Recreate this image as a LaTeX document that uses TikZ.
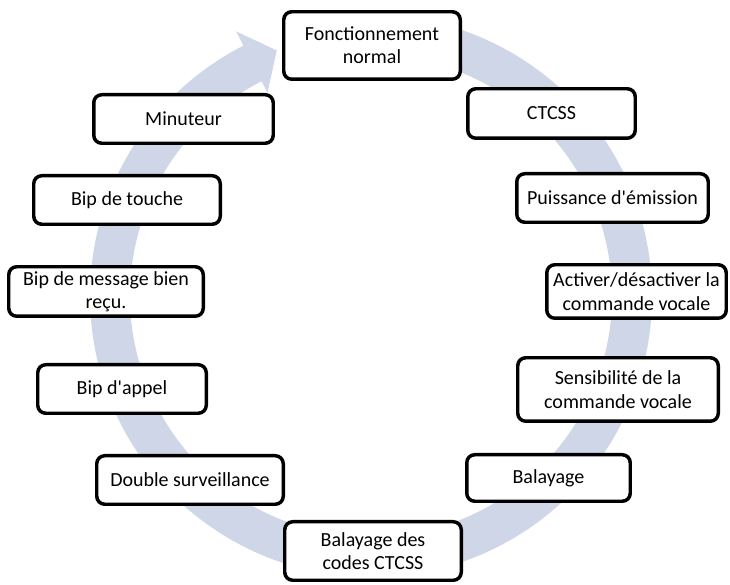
\documentclass[tikz,border=0pt]{standalone}
\usepackage{fontspec}
\setmainfont{Carlito}
\usetikzlibrary{calc}
\definecolor{anneau}{RGB}{207,214,232}
\tikzset{etape/.style={draw=black,line width=2.6pt,rounded corners=6pt,fill=white,
  align=center,inner sep=0pt,font=\fontsize{15}{17.5}\selectfont}}

\begin{document}
\begin{tikzpicture}[x=0.75pt,y=0.75pt]
        \useasboundingbox (0,0) rectangle (730,584);
        %Cycle arrow behind the steps
        \coordinate (c) at (371,288);
        \fill[anneau] ($(c)+(95:281)$) arc[start angle=95,end angle=-243,radius=281]
          -- ($(c)+(-243:297)$) -- ($(c)+(-249:263)$) -- ($(c)+(-243:228)$)
          -- ($(c)+(-243:241)$) arc[start angle=-243,end angle=95,radius=241] -- cycle;
        %Right side
        \node[etape,minimum width=132.4pt,minimum height=50.6pt] (fn) at (372,538.5) {Fonctionnement\\normal};
        \node[etape,minimum width=125.6pt,minimum height=37.1pt] (ctcss) at (551.5,470.5) {CTCSS};
        \node[etape,minimum width=143.6pt,minimum height=36.4pt] (puis) at (612.5,386) {Puissance d\textquotesingle émission};
        \node[etape,minimum width=134.6pt,minimum height=40.1pt] (activ) at (636.5,292.5) {Activer/désactiver la\\commande vocale};
        \node[etape,minimum width=150.4pt,minimum height=47.6pt] (sensi) at (618,194.5) {Sensibilité de la\\commande vocale};
        \node[etape,minimum width=122.6pt,minimum height=34.9pt] (bal) at (548.5,106) {Balayage};
        %Bottom
        \node[etape,minimum width=132.4pt,minimum height=43.9pt] (balc) at (373,33) {Balayage des\\codes CTCSS};
        %Left side
        \node[etape,minimum width=139.9pt,minimum height=36.4pt] (dbl) at (190,104) {Double surveillance};
        \node[etape,minimum width=126.4pt,minimum height=36.4pt] (appel) at (122,195) {Bip d\textquotesingle appel};
        \node[etape,minimum width=145.9pt,minimum height=37.1pt] (msg) at (106,292.5) {Bip de message bien\\reçu.};
        \node[etape,minimum width=139.9pt,minimum height=36.4pt] (touche) at (127,384) {Bip de touche};
        \node[etape,minimum width=134.6pt,minimum height=36.4pt] (minu) at (183.5,465) {Minuteur};
\end{tikzpicture}
\end{document}
